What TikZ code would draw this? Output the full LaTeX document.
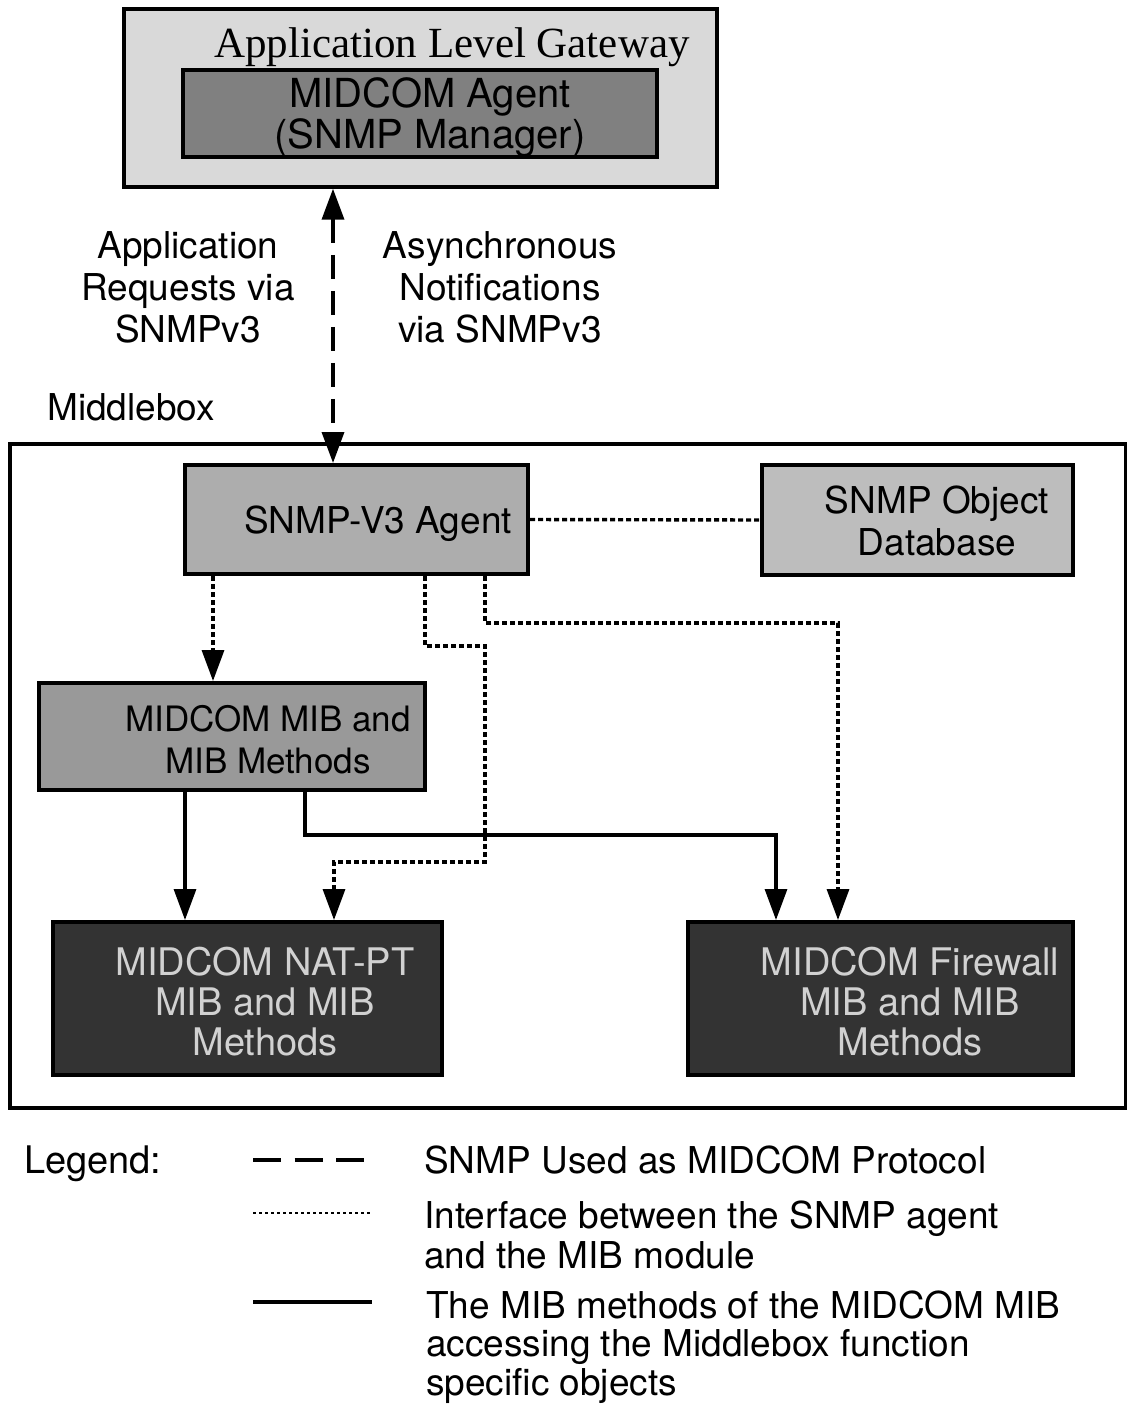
\documentclass[tikz,border=0pt]{standalone}
\usepackage{fontspec}
\setmainfont{Liberation Serif}
\setsansfont{TeX Gyre Heros}
\usetikzlibrary{arrows.meta}

% multi-line text block whose baseline is that of its first line
\newcommand{\mlines}[1]{\begin{tabular}[t]{@{}c@{}}#1\end{tabular}}
\newcommand{\mlinesl}[1]{\begin{tabular}[t]{@{}l@{}}#1\end{tabular}}

\definecolor{algfill}{gray}{0.85}
\definecolor{agentfill}{gray}{0.50}
\definecolor{snmpfill}{gray}{0.68}
\definecolor{dbfill}{gray}{0.74}
\definecolor{mibfill}{gray}{0.60}
\definecolor{modfill}{gray}{0.20}
\definecolor{modtext}{gray}{0.82}

\tikzset{
  box/.style={draw=black, line width=4pt, inner sep=0pt},
  lbl/.style={inner sep=0pt, anchor=base, font=\sffamily\fontsize{37}{42}\selectfont},
  boxtext/.style={inner sep=0pt, anchor=base, font=\sffamily\fontsize{37}{42}\selectfont},
  legtext/.style={inner sep=0pt, anchor=base west, font=\sffamily\fontsize{37}{40}\selectfont},
  tip/.style={-{Triangle[length=31pt,width=22pt]}},
  protocol/.style={line width=3.6pt, dash pattern=on 24pt off 12pt},
  iface/.style={line width=3.4pt, dash pattern=on 5pt off 3pt},
  method/.style={line width=3.2pt},
}

\begin{document}
\begin{tikzpicture}[x=1pt, y=-1pt]
\useasboundingbox (0,0) rectangle (1127,1406);
\fill[white] (0,0) rectangle (1127,1406);

% Application Level Gateway with the MIDCOM agent inside
\node[box, line width=3.4pt, fill=algfill, minimum width=593pt, minimum height=178pt] (alg) at (420.5,98) {};
\node[inner sep=0pt, anchor=base, font=\fontsize{43}{46}\selectfont] (algt) at (452,57) {Application Level Gateway};
\node[box, fill=agentfill, minimum width=474pt, minimum height=87pt] (agent) at (420,113.5) {};
\node[boxtext, font=\sffamily\fontsize{40}{40}\selectfont] (agentt) at (430,107) {\mlines{MIDCOM Agent\\(SNMP Manager)}};

% labels of the protocol link
\node[lbl] (req) at (188,258) {\mlines{Application\\Requests via\\SNMPv3}};
\node[lbl] (notif) at (500,258) {\mlines{Asynchronous\\Notifications\\via SNMPv3}};
\node[lbl, anchor=base west] (mbt) at (47,420) {Middlebox};

% Middlebox frame
\node[draw=black, line width=3.2pt, inner sep=0pt, minimum width=1116pt, minimum height=664pt] (mb) at (568,776) {};

% Middlebox components
\node[box, fill=snmpfill, minimum width=343pt, minimum height=109pt] (snmp) at (356.5,519.5) {};
\node[boxtext] (snmpt) at (378,533) {SNMP-V3 Agent};
\node[box, fill=dbfill, minimum width=311pt, minimum height=110pt] (db) at (917.5,520) {};
\node[boxtext] (dbt) at (937,513) {\mlines{SNMP Object\\Database}};
\node[box, fill=mibfill, minimum width=386pt, minimum height=107pt] (mib) at (232,736.5) {};
\node[boxtext, font=\sffamily\fontsize{35}{42}\selectfont] (mibt) at (268,731) {\mlines{MIDCOM MIB and\\MIB Methods}};
\node[box, fill=modfill, minimum width=389pt, minimum height=153pt] (nat) at (247.5,998.5) {};
\node[boxtext, text=modtext, font=\sffamily\fontsize{38}{40}\selectfont] (natt) at (265,975) {\mlines{MIDCOM NAT-PT\\MIB and MIB\\Methods}};
\node[box, fill=modfill, minimum width=385pt, minimum height=153pt] (fw) at (880.5,998.5) {};
\node[boxtext, text=modtext, font=\sffamily\fontsize{38}{40}\selectfont] (fwt) at (910,975) {\mlines{MIDCOM Firewall\\MIB and MIB\\Methods}};

% routing columns and rows
\coordinate (xp) at (333,0);
\coordinate (xa) at (213,0);
\coordinate (xb) at (425,0);
\coordinate (xc) at (485,0);
\coordinate (xd) at (334,0);
\coordinate (xe) at (838,0);
\coordinate (xf) at (185,0);
\coordinate (xg) at (305,0);
\coordinate (xh) at (776,0);

% SNMPv3 between the gateway and the middlebox
\draw[protocol, {Triangle[length=31pt,width=22pt]}-{Triangle[length=31pt,width=22pt]}] (alg.south -| xp) -- (snmp.north -| xp);

% agent to MIB module interfaces
\draw[iface] (snmp.east) -- (db.west);
\draw[iface, tip] (snmp.south -| xa) -- (mib.north -| xa);
\draw[iface, tip] (snmp.south -| xb) -- (425,646) -- (485,646) -- (485,862) -- (334,862) -- (nat.north -| xd);
\draw[iface, tip] (snmp.south -| xc) -- (485,623) -- (838,623) -- (fw.north -| xe);

% MIB methods reaching the function specific objects
\draw[method, tip] (mib.south -| xf) -- (nat.north -| xf);
\draw[method, tip] (mib.south -| xg) -- (305,835) -- (776,835) -- (fw.north -| xh);

% legend
\node[legtext, font=\sffamily\fontsize{38}{40}\selectfont] (leg) at (24,1173) {Legend:};
\coordinate (l1a) at (253,1160); \coordinate (l1b) at (364,1160);
\coordinate (l2a) at (253,1213); \coordinate (l2b) at (372,1213);
\coordinate (l3a) at (253,1302); \coordinate (l3b) at (372,1302);
\draw[line width=3.6pt, dash pattern=on 28pt off 13.5pt] (l1a) -- (l1b);
\draw[line width=2.2pt, dash pattern=on 3pt off 3pt] (l2a) -- (l2b);
\draw[line width=3.4pt] (l3a) -- (l3b);
\node[legtext] (leg1) at (424,1173) {SNMP Used as MIDCOM Protocol};
\node[legtext] (leg2) at (424,1228) {\mlinesl{Interface between the SNMP agent\\and the MIB module}};
\node[legtext, font=\sffamily\fontsize{37}{38.5}\selectfont] (leg3) at (426,1318) {\mlinesl{The MIB methods of the MIDCOM MIB\\accessing the Middlebox function\\specific objects}};
\end{tikzpicture}
\end{document}
